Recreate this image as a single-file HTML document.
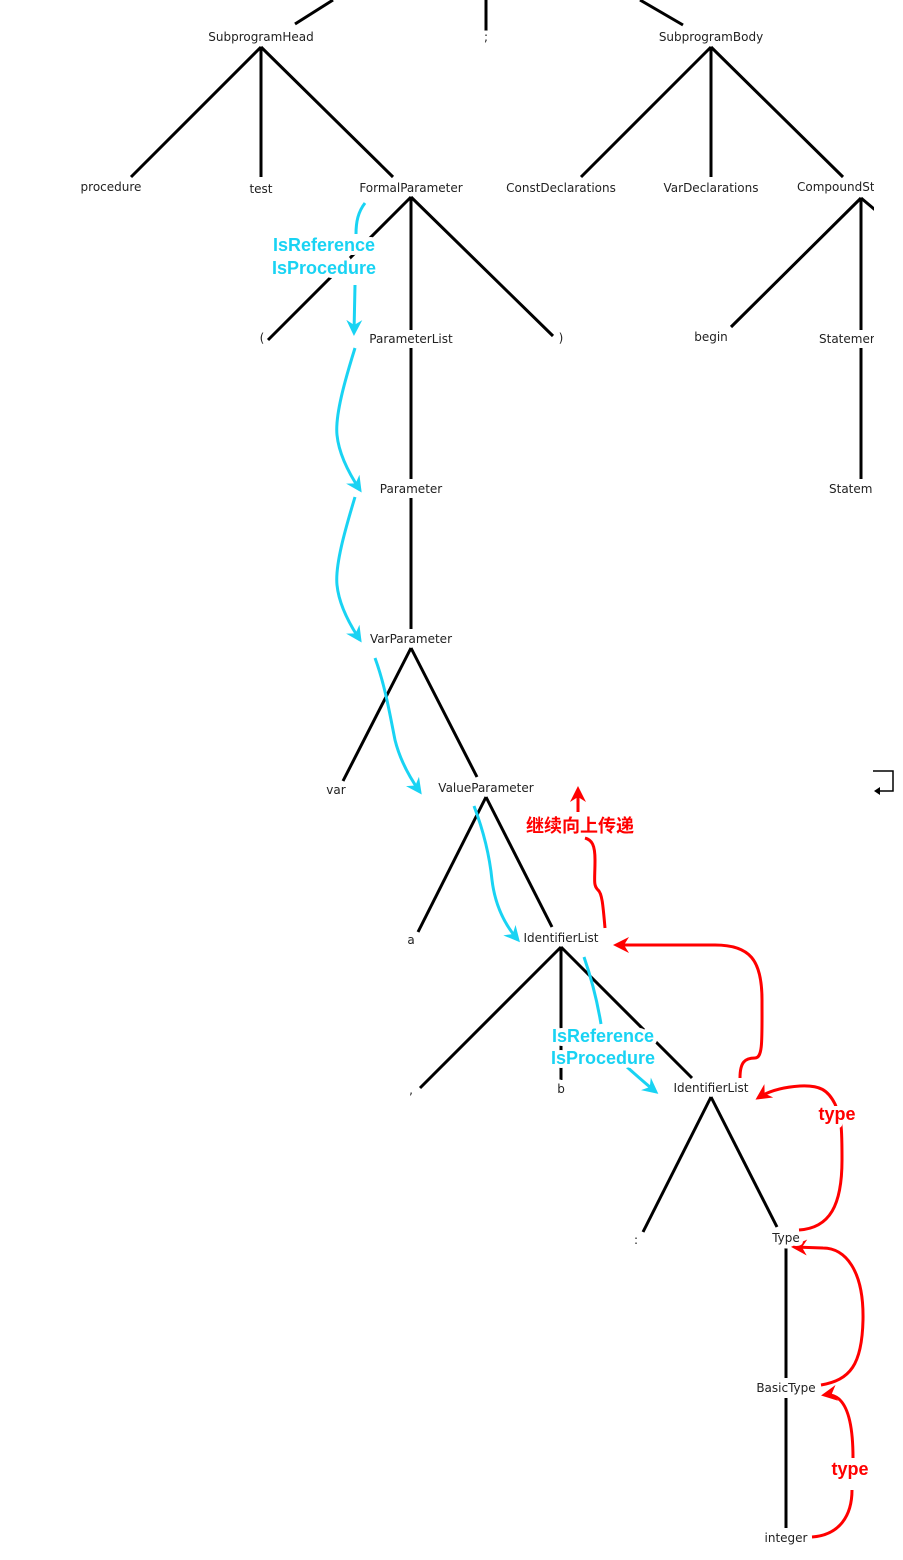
<!DOCTYPE html>
<html><head><meta charset="utf-8">
<style>
html,body{margin:0;padding:0;background:#fff;}
svg{display:block;}
.t{font-family:"DejaVu Sans","Liberation Sans",sans-serif;font-size:12px;fill:#222;text-anchor:middle;paint-order:stroke;stroke:#fff;stroke-width:8px;stroke-linejoin:round;}
.c{font-family:"Liberation Sans","Noto Sans CJK SC",sans-serif;font-size:18px;font-weight:bold;text-anchor:middle;paint-order:stroke;stroke:#fff;stroke-width:8px;stroke-linejoin:round;}
</style></head>
<body>
<svg width="903" height="1560" viewBox="0 0 903 1560" xmlns="http://www.w3.org/2000/svg">
<defs>
<marker id="ac" markerWidth="16" markerHeight="16" refX="13" refY="8" orient="auto" markerUnits="userSpaceOnUse" viewBox="0 0 16 16"><path d="M0,0 L16,8 L0,16 L5,8 z" fill="#19d3f3"/></marker>
<marker id="ar" markerWidth="16" markerHeight="16" refX="13" refY="8" orient="auto" markerUnits="userSpaceOnUse" viewBox="0 0 16 16"><path d="M0,0 L16,8 L0,16 L5,8 z" fill="#ff0000"/></marker>
</defs>
<g stroke="#000" stroke-width="3" fill="none">
<line x1="333" y1="0" x2="295" y2="24"/>
<line x1="486" y1="0" x2="486" y2="31"/>
<line x1="640" y1="0" x2="683" y2="25"/>
<line x1="261" y1="47" x2="131" y2="177"/>
<line x1="261" y1="47" x2="261" y2="177"/>
<line x1="261" y1="47" x2="393" y2="177"/>
<line x1="711" y1="47" x2="581" y2="177"/>
<line x1="711" y1="47" x2="711" y2="177"/>
<line x1="711" y1="47" x2="843" y2="177"/>
<line x1="411" y1="197" x2="268" y2="340"/>
<line x1="411" y1="197" x2="411" y2="330"/>
<line x1="411" y1="197" x2="553" y2="336"/>
<line x1="861" y1="198" x2="731" y2="327"/>
<line x1="861" y1="198" x2="861" y2="330"/>
<line x1="861" y1="198" x2="880" y2="214"/>
<line x1="411" y1="348" x2="411" y2="479"/>
<line x1="411" y1="498" x2="411" y2="629"/>
<line x1="861" y1="348" x2="861" y2="479"/>
<line x1="411" y1="648" x2="343" y2="781"/>
<line x1="411" y1="648" x2="477" y2="777"/>
<line x1="486" y1="797" x2="418" y2="932"/>
<line x1="486" y1="797" x2="552" y2="927"/>
<line x1="561" y1="947" x2="420" y2="1088"/>
<line x1="561" y1="947" x2="561" y2="1080"/>
<line x1="561" y1="947" x2="692" y2="1078"/>
<line x1="711" y1="1097" x2="643" y2="1232"/>
<line x1="711" y1="1097" x2="777" y2="1227"/>
<line x1="786" y1="1248" x2="786" y2="1378"/>
<line x1="786" y1="1398" x2="786" y2="1528"/>
</g>
<!-- cyan -->
<g stroke="#19d3f3" stroke-width="3" fill="none">
<path d="M365,203 C358,212 356,222 356,234"/>
<path d="M355,285 L354,333" marker-end="url(#ac)"/>
<path d="M355,348 C345,380 335,415 337,435 C339,455 350,475 360,490" marker-end="url(#ac)"/>
<path d="M355,497 C345,530 335,565 337,585 C339,605 350,625 360,640" marker-end="url(#ac)"/>
<path d="M375,658 C385,685 390,715 395,740 C400,760 410,778 420,792" marker-end="url(#ac)"/>
<path d="M474,806 C485,835 490,860 492,880 C495,905 505,925 518,940" marker-end="url(#ac)"/>
<path d="M584,957 C592,980 597,1000 601,1024"/>
<path d="M627,1067 C637,1076 646,1084 656,1092" marker-end="url(#ac)"/>
</g>
<!-- red -->
<g stroke="#ff0000" stroke-width="3" fill="none">
<path d="M605,928 C603,905 602,893 598,890 C593,885 595,880 595,860 C595,845 592,840 585,838"/>
<path d="M578,812 L578,789" marker-end="url(#ar)"/>
<path d="M740,1078 C740,1062 745,1058 755,1058 C763,1058 762,1040 762,1000 C762,960 750,945 715,945 L616,945" marker-end="url(#ar)"/>
<path d="M799,1230 C830,1228 842,1205 842,1160 C842,1130 842,1120 835,1104 C828,1090 820,1085 800,1086 C785,1087 770,1090 758,1098" marker-end="url(#ar)"/>
<path d="M821,1385 C850,1380 862,1365 863,1320 C864,1270 845,1248 823,1248 L794,1247" marker-end="url(#ar)"/>
<path d="M812,1537 C840,1535 852,1515 852,1490"/>
<path d="M853,1458 C853,1425 848,1408 840,1400 C835,1395 830,1394 824,1395" marker-end="url(#ar)"/>
</g>
<!-- labels -->
<text class="t" x="261" y="41">SubprogramHead</text>
<text class="t" x="486" y="41">;</text>
<text class="t" x="711" y="41">SubprogramBody</text>
<text class="t" x="111" y="191">procedure</text>
<text class="t" x="261" y="193">test</text>
<text class="t" x="411" y="192">FormalParameter</text>
<text class="t" x="561" y="192">ConstDeclarations</text>
<text class="t" x="711" y="192">VarDeclarations</text>
<text class="t" x="797" y="191" style="text-anchor:start">CompoundSt</text>
<text class="t" x="262" y="342">(</text>
<text class="t" x="411" y="343">ParameterList</text>
<text class="t" x="561" y="342">)</text>
<text class="t" x="711" y="341">begin</text>
<text class="t" x="819" y="343" style="text-anchor:start">Statemer</text>
<text class="t" x="411" y="493">Parameter</text>
<text class="t" x="829" y="493" style="text-anchor:start">Statem</text>
<text class="t" x="411" y="643">VarParameter</text>
<text class="t" x="336" y="794">var</text>
<text class="t" x="486" y="792">ValueParameter</text>
<text class="t" x="411" y="944">a</text>
<text class="t" x="561" y="942">IdentifierList</text>
<text class="t" x="411" y="1094">,</text>
<text class="t" x="561" y="1093">b</text>
<text class="t" x="711" y="1092">IdentifierList</text>
<text class="t" x="636" y="1244">:</text>
<text class="t" x="786" y="1242">Type</text>
<text class="t" x="786" y="1392">BasicType</text>
<text class="t" x="786" y="1542">integer</text>
<!-- right clip -->
<rect x="874" y="0" width="29" height="700" fill="#fff"/>
<!-- small icon -->
<path d="M873,771 H893 V791 H877" stroke="#000" stroke-width="1.5" fill="none"/>
<path d="M874,791 L880,787 L880,795 z" fill="#000"/>
<text class="c" x="324" y="251" fill="#19d3f3">IsReference</text>
<text class="c" x="324" y="274" fill="#19d3f3">IsProcedure</text>
<text class="c" x="603" y="1042" fill="#19d3f3">IsReference</text>
<text class="c" x="603" y="1064" fill="#19d3f3">IsProcedure</text>
<text class="c" x="580" y="832" fill="#ff0000">继续向上传递</text>
<text class="c" x="837" y="1120" fill="#ff0000">type</text>
<text class="c" x="850" y="1475" fill="#ff0000">type</text>
</svg>
</body></html>
